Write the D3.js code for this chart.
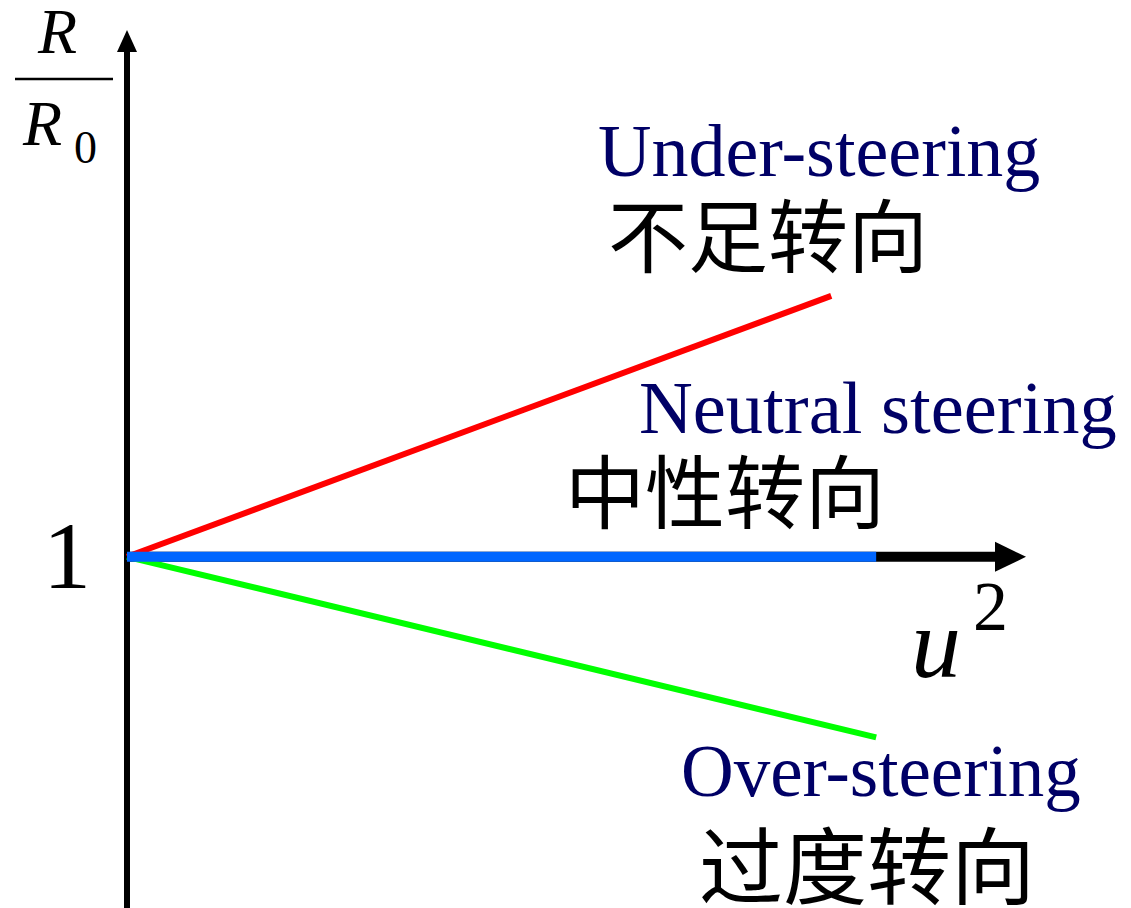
<html>
<head>
  <meta charset="utf-8" />
  <script src="https://cdnjs.cloudflare.com/ajax/libs/d3/7.8.5/d3.min.js"></script>
  <style>
    body { margin: 0; background: #fff; }
    .en { font-family: "Liberation Serif", "Times New Roman", serif; fill: #000066; }
    .cn { font-family: "Noto Sans CJK SC", sans-serif; fill: #000; }
    .math { font-family: "Liberation Serif", "Times New Roman", serif; fill: #000; }
  </style>
</head>
<body>
  <svg></svg>
  <script>
  // data (arbitrary units: u^2 along x, R/R0 along y)
  var xDomain = [0, 1.2];
  var yDomain = [0.3, 2.05];
  var yTicks = [1];

  var underX = [0, 0.94], underY = [1, 1.52];
  var neutralX = [0, 1.0], neutralY = [1, 1];
  var overX = [0, 1.0], overY = [1, 0.64];

  var labelsEn = ["Under-steering", "Neutral steering", "Over-steering"];
  var labelsCn = ["不足转向", "中性转向", "过度转向"];

  var svg = d3.select("svg").attr("width", 1131).attr("height", 908);

  var xScale = d3.scaleLinear().domain(xDomain).range([127, 1026]);
  var yScale = d3.scaleLinear().domain(yDomain).range([908, 30]);

  // y axis with the single "1" tick
  var yAxis = d3.axisLeft(yScale).tickValues(yTicks).tickSize(0).tickPadding(36).tickFormat(d3.format("d"));
  var gy = svg.append("g").attr("transform", "translate(127,0)").call(yAxis);
  gy.select("path.domain").remove();
  gy.selectAll(".tick text")
      .attr("class", "math")
      .style("font-size", "96px")
      .attr("fill", "#000");

  svg.append("line")
      .attr("x1", 127).attr("x2", 127)
      .attr("y1", yScale(yDomain[0])).attr("y2", yScale(yDomain[1]) + 18)
      .attr("stroke", "#000").attr("stroke-width", 6);
  svg.append("path")
      .attr("d", "M127," + yScale(yDomain[1]) + " L137," + (yScale(yDomain[1]) + 22) + " L117," + (yScale(yDomain[1]) + 22) + "Z")
      .attr("fill", "#000");

  // x axis arrow
  var y1 = yScale(1);
  var xEnd = xScale(xDomain[1]);
  svg.append("line")
      .attr("x1", xScale(0)).attr("x2", xEnd - 28)
      .attr("y1", y1).attr("y2", y1)
      .attr("stroke", "#000").attr("stroke-width", 10);
  svg.append("path")
      .attr("d", "M" + xEnd + "," + y1 + " L" + (xEnd - 31) + "," + (y1 - 15) + " L" + (xEnd - 31) + "," + (y1 + 15) + "Z")
      .attr("fill", "#000");

  var line = d3.line().x(d => xScale(d[0])).y(d => yScale(d[1]));

  function pts(xs, ys) { return xs.map((x, i) => [x, ys[i]]); }

  svg.append("path").attr("d", line(pts(underX, underY)))
      .attr("stroke", "#ff0000").attr("stroke-width", 6).attr("fill", "none");
  svg.append("path").attr("d", line(pts(overX, overY)))
      .attr("stroke", "#00ff00").attr("stroke-width", 6).attr("fill", "none");
  svg.append("path").attr("d", line(pts(neutralX, neutralY)))
      .attr("stroke", "#0066ff").attr("stroke-width", 10).attr("fill", "none");

  // R / R0 axis title
  svg.append("text").attr("class", "math").attr("x", 38).attr("y", 53)
      .style("font-size", "64px").style("font-style", "italic").text("R");
  svg.append("line").attr("x1", 15).attr("x2", 113).attr("y1", 79).attr("y2", 79)
      .attr("stroke", "#000").attr("stroke-width", 2.5);
  svg.append("text").attr("class", "math").attr("x", 23).attr("y", 145)
      .style("font-size", "64px").style("font-style", "italic").text("R");
  svg.append("text").attr("class", "math").attr("x", 74).attr("y", 163)
      .style("font-size", "46px").text("0");

  // u^2
  svg.append("text").attr("class", "math").attr("x", 911).attr("y", 677)
      .style("font-size", "100px").style("font-style", "italic").text("u");
  svg.append("text").attr("class", "math").attr("x", 973).attr("y", 630)
      .style("font-size", "70px").text("2");

  // labels
  var enPos = [[598, 176], [639, 433], [681, 796]];
  var enSize = [74, 74.5, 73];
  var cnPos = [[608, 266], [565, 522], [699, 898]];
  var cnSize = [80, 80, 84];

  labelsEn.forEach((t, i) => {
    svg.append("text").attr("class", "en")
        .attr("x", enPos[i][0]).attr("y", enPos[i][1])
        .style("font-size", enSize[i] + "px").text(t);
  });
  labelsCn.forEach((t, i) => {
    svg.append("text").attr("class", "cn")
        .attr("x", cnPos[i][0]).attr("y", cnPos[i][1])
        .style("font-size", cnSize[i] + "px").text(t);
  });
  </script>
</body>
</html>
